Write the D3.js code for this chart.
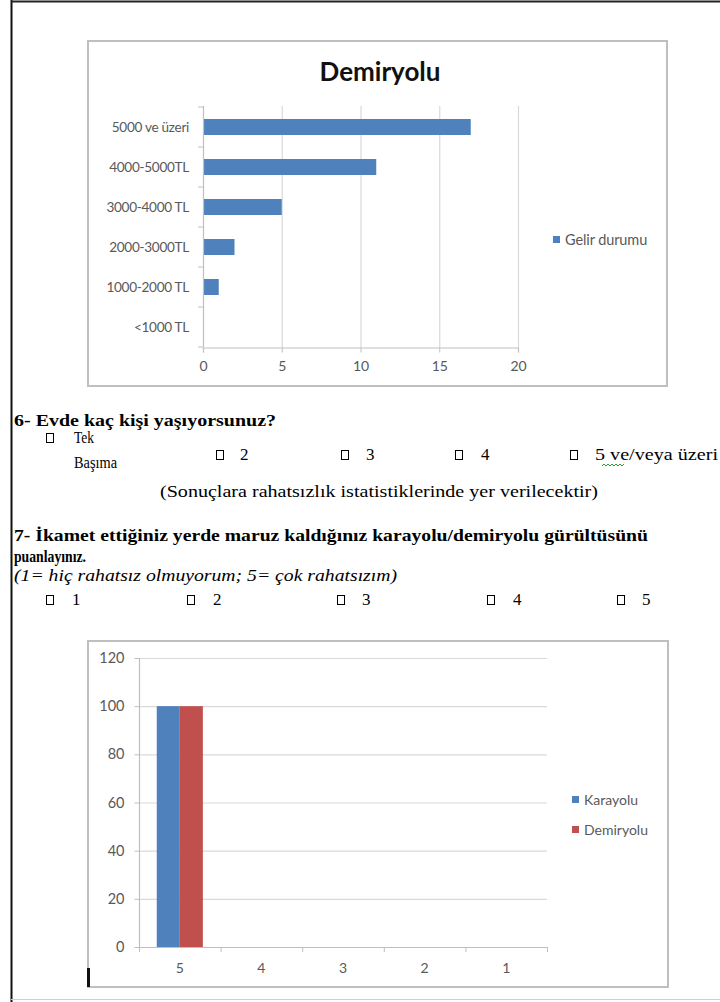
<!DOCTYPE html>
<html>
<head>
<meta charset="utf-8">
<script src="https://cdn.jsdelivr.net/npm/d3@7"></script>
<style>
  html, body { margin: 0; padding: 0; background: #fff; }
  svg { display: block; }
</style>
</head>
<body>
<svg id="page" width="720" height="1002"></svg>
<script>
// Income distribution (Demiryolu respondents)
const incomeCategories = ["5000 ve üzeri", "4000-5000TL", "3000-4000 TL", "2000-3000TL", "1000-2000 TL", "<1000 TL"];
const incomeValues = [17, 11, 5, 2, 1, 0];
const incomeTicks = [0, 5, 10, 15, 20];
const incomeSeries = "Gelir durumu";

// Noise annoyance rating (1-5)
const ratingCategories = ["5", "4", "3", "2", "1"];
const ratingSeries = ["Karayolu", "Demiryolu"];
const karayoluValues = [100, 0, 0, 0, 0];
const demiryoluValues = [100, 0, 0, 0, 0];
const ratingTicks = [0, 20, 40, 60, 80, 100, 120];

const svg = d3.select("#page");
const chartFont = "Lato, 'Open Sans', sans-serif";
const docFont = "'Liberation Serif', 'Times New Roman', serif";
const axisText = "#595959";
const gridColor = "#d9d9d9";
const axisColor = "#bfbfbf";
const frameColor = "#bfbfbf";
const blue = "#4f81bd";
const red = "#c0504d";

// ---- page borders ----
svg.append("line").attr("x1", 11.5).attr("x2", 11.5).attr("y1", 0).attr("y2", 1002)
  .attr("stroke", "#111").attr("stroke-width", 2);
svg.append("line").attr("x1", 11).attr("x2", 720).attr("y1", 1.5).attr("y2", 1.5)
  .attr("stroke", "#222").attr("stroke-width", 2);
svg.append("line").attr("x1", 11).attr("x2", 720).attr("y1", 999.5).attr("y2", 999.5)
  .attr("stroke", "#d0d0d0").attr("stroke-width", 1);

// ---- chart 1: horizontal bars ----
const c1 = svg.append("g");
c1.append("rect").attr("x", 88).attr("y", 41).attr("width", 579).attr("height", 345)
  .attr("fill", "#fff").attr("stroke", frameColor).attr("stroke-width", 2);

c1.append("text").attr("x", 380).attr("y", 81).attr("text-anchor", "middle")
  .attr("font-family", chartFont).attr("font-weight", "bold").attr("font-size", 26)
  .attr("fill", "#111").text("Demiryolu");

const x1 = d3.scaleLinear().domain([0, 20]).range([203, 518]);
const y1 = d3.scaleBand().domain(incomeCategories).range([107, 347])
  .paddingInner(0.6).paddingOuter(0.3);

// vertical gridlines
c1.append("g").selectAll("line").data(incomeTicks.filter(d => d > 0)).join("line")
  .attr("x1", d => x1(d) + 0.5).attr("x2", d => x1(d) + 0.5)
  .attr("y1", 106).attr("y2", 347)
  .attr("stroke", gridColor).attr("stroke-width", 1.2);

// bars
c1.append("g").selectAll("rect").data(incomeCategories).join("rect")
  .attr("x", x1(0))
  .attr("y", d => y1(d))
  .attr("width", (d, i) => x1(incomeValues[i]) - x1(0))
  .attr("height", y1.bandwidth())
  .attr("fill", blue);

// x axis
const xAxis1 = d3.axisBottom(x1).tickValues(incomeTicks).tickSize(5).tickPadding(9);
const gx1 = c1.append("g").attr("transform", "translate(0,347.5)").call(xAxis1);
gx1.select(".domain").attr("stroke", axisColor).attr("stroke-width", 1.2);
gx1.selectAll(".tick line").attr("stroke", axisColor);
gx1.selectAll("text").attr("font-family", chartFont).attr("font-size", 14).attr("fill", axisText);

// y axis: line plus ticks at band boundaries
const step1 = y1.step();
c1.append("line").attr("x1", 203.5).attr("x2", 203.5).attr("y1", 106).attr("y2", 347)
  .attr("stroke", axisColor).attr("stroke-width", 1.2);
c1.append("g").selectAll("line").data(d3.range(incomeCategories.length + 1)).join("line")
  .attr("x1", 198).attr("x2", 203)
  .attr("y1", i => 107 + i * step1).attr("y2", i => 107 + i * step1)
  .attr("stroke", axisColor);
c1.append("g").selectAll("text").data(incomeCategories).join("text")
  .attr("x", 189)
  .attr("y", d => y1(d) + y1.bandwidth() / 2)
  .attr("dy", "0.35em")
  .attr("text-anchor", "end")
  .attr("font-family", chartFont).attr("font-size", 13.6)
  .attr("letter-spacing", -0.3)
  .attr("fill", axisText)
  .text(d => d);

// legend
c1.append("rect").attr("x", 553).attr("y", 236).attr("width", 7).attr("height", 7).attr("fill", blue);
c1.append("text").attr("x", 565).attr("y", 240).attr("dy", "0.35em")
  .attr("font-family", chartFont).attr("font-size", 14.5).attr("fill", axisText)
  .attr("letter-spacing", -0.1)
  .text(incomeSeries);

// ---- questionnaire text ----
const doc = svg.append("g").attr("font-family", docFont).attr("fill", "#000");

function docText(x, y, str, opts = {}) {
  const t = doc.append("text").attr("x", x).attr("y", y).text(str)
    .attr("font-family", docFont)
    .attr("font-size", opts.size || 17)
    .attr("font-weight", opts.bold ? "bold" : "normal")
    .attr("font-style", opts.italic ? "italic" : "normal");
  if (opts.width) t.attr("textLength", opts.width).attr("lengthAdjust", "spacingAndGlyphs");
  return t;
}
function checkBox(x, y) {
  doc.append("rect").attr("x", x + 0.5).attr("y", y + 0.5).attr("width", 7).attr("height", 9)
    .attr("fill", "none").attr("stroke", "#000").attr("stroke-width", 1);
}

docText(14, 426, "6- Evde kaç kişi yaşıyorsunuz?", { bold: true, size: 17, width: 262 });

checkBox(46, 433);
docText(74, 443, "Tek", { width: 20 });
docText(74, 468, "Başıma", { width: 43 });

const q6Options = [
  { box: 216, text: "2", tx: 240 },
  { box: 341, text: "3", tx: 366 },
  { box: 455, text: "4", tx: 481 },
  { box: 570, text: "5 ve/veya üzeri", tx: 595, w: 123 }
];
q6Options.forEach(o => {
  checkBox(o.box, 450);
  docText(o.tx, 460, o.text, { width: o.w });
});
// spell-check squiggle under "ve"
{
  const pts = [];
  for (let x = 602; x <= 624; x += 2) pts.push([x, 464 + ((x / 2) % 2 === 0 ? 0 : 2)]);
  doc.append("path").attr("d", d3.line()(pts)).attr("fill", "none")
    .attr("stroke", "#2e9a3a").attr("stroke-width", 1);
}

docText(160, 497, "(Sonuçlara rahatsızlık istatistiklerinde yer verilecektir)", { width: 438 });

docText(14, 541, "7- İkamet ettiğiniz yerde maruz kaldığınız karayolu/demiryolu gürültüsünü", { bold: true, size: 17, width: 634 });
docText(14, 562, "puanlayınız.", { bold: true, size: 17, width: 72 });
docText(14, 581, "(1= hiç rahatsız olmuyorum; 5= çok rahatsızım)", { italic: true, size: 16, width: 383 });

const q7Options = [
  { box: 46, tx: 72, text: "1" },
  { box: 187, tx: 213, text: "2" },
  { box: 337, tx: 362, text: "3" },
  { box: 487, tx: 513, text: "4" },
  { box: 617, tx: 642, text: "5" }
];
q7Options.forEach(o => {
  checkBox(o.box, 595);
  docText(o.tx, 605, o.text);
});

// ---- chart 2: grouped columns ----
const c2 = svg.append("g");
c2.append("rect").attr("x", 88).attr("y", 641).attr("width", 580).attr("height", 346)
  .attr("fill", "#fff").attr("stroke", frameColor).attr("stroke-width", 2);

const x2 = d3.scaleBand().domain(ratingCategories).range([139, 547]);
const xs2 = d3.scaleBand().domain(ratingSeries).range([0, x2.bandwidth()])
  .paddingInner(0).paddingOuter(0.77);
const y2 = d3.scaleLinear().domain([0, 120]).range([947, 658]);
const seriesValues = [karayoluValues, demiryoluValues];
const seriesColors = [blue, red];

// horizontal gridlines
c2.append("g").selectAll("line").data(ratingTicks.filter(d => d > 0)).join("line")
  .attr("x1", 139).attr("x2", 547)
  .attr("y1", d => y2(d) + 0.5).attr("y2", d => y2(d) + 0.5)
  .attr("stroke", gridColor).attr("stroke-width", 1.2);

// columns
ratingSeries.forEach((s, si) => {
  c2.append("g").selectAll("rect").data(ratingCategories).join("rect")
    .attr("x", d => x2(d) + xs2(s))
    .attr("y", (d, i) => y2(seriesValues[si][i]))
    .attr("width", xs2.bandwidth())
    .attr("height", (d, i) => y2(0) - y2(seriesValues[si][i]))
    .attr("fill", seriesColors[si]);
});

// y axis
const yAxis2 = d3.axisLeft(y2).tickValues(ratingTicks).tickSize(5).tickPadding(10);
const gy2 = c2.append("g").attr("transform", "translate(139.5,0)").call(yAxis2);
gy2.select(".domain").attr("stroke", axisColor).attr("stroke-width", 1.2).attr("d", "M0,658V947");
gy2.selectAll(".tick line").attr("stroke", axisColor);
gy2.selectAll("text").attr("font-family", chartFont).attr("font-size", 14.5).attr("fill", axisText);

// x axis with ticks at category boundaries
c2.append("line").attr("x1", 139).attr("x2", 547).attr("y1", 947.5).attr("y2", 947.5)
  .attr("stroke", axisColor).attr("stroke-width", 1.2);
c2.append("g").selectAll("line").data(d3.range(ratingCategories.length + 1)).join("line")
  .attr("x1", i => 139.5 + i * x2.step()).attr("x2", i => 139.5 + i * x2.step())
  .attr("y1", 947).attr("y2", 952)
  .attr("stroke", axisColor);
c2.append("g").selectAll("text").data(ratingCategories).join("text")
  .attr("x", d => x2(d) + x2.bandwidth() / 2)
  .attr("y", 968)
  .attr("dy", "0.35em")
  .attr("text-anchor", "middle")
  .attr("font-family", chartFont).attr("font-size", 14).attr("fill", axisText)
  .text(d => d);

// legend
const lg2 = c2.append("g").selectAll("g").data(ratingSeries).join("g")
  .attr("transform", (d, i) => `translate(572,${796 + i * 30})`);
lg2.append("rect").attr("width", 7).attr("height", 7).attr("fill", (d, i) => seriesColors[i]);
lg2.append("text").attr("x", 12).attr("y", 4).attr("dy", "0.35em")
  .attr("font-family", chartFont).attr("font-size", 14).attr("fill", axisText)
  .text(d => d);

// text cursor
svg.append("rect").attr("x", 87).attr("y", 968).attr("width", 3).attr("height", 19).attr("fill", "#111");
</script>
</body>
</html>
